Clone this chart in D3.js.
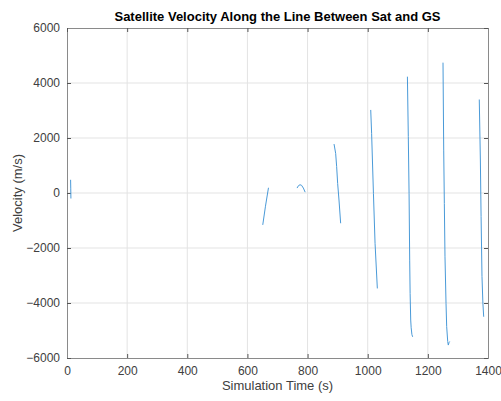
<!DOCTYPE html>
<html>
<head>
<meta charset="utf-8">
<script src="https://cdn.jsdelivr.net/npm/d3@7"></script>
<style>
  body { margin: 0; background: white; }
  text { font-family: "Liberation Sans", Arial, sans-serif; }
</style>
</head>
<body>
<div id="chart"></div>
<script>
// each pass: time (s) and velocity (m/s)
let pass1Time = [12, 12.5, 13];
let pass1Vel = [480, 150, -200];
let pass2Time = [651, 660, 670];
let pass2Vel = [-1160, -480, 190];
let pass3Time = [765, 770, 775, 780, 786, 792];
let pass3Vel = [180, 270, 300, 280, 180, 30];
let pass4Time = [888, 893.4, 896.7, 900, 904.5, 910];
let pass4Vel = [1780, 1440, 960, 350, -255, -1100];
let pass5Time = [1010, 1013, 1019, 1024.4, 1032];
let pass5Vel = [3020, 2170, -10, -1830, -3470];
let pass6Time = [1132, 1135, 1137.5, 1139.6, 1141, 1143, 1144.5, 1147, 1149.5];
let pass6Vel = [4230, 2050, -10, -2440, -3650, -4620, -4900, -5150, -5230];
let pass7Time = [1250.4, 1252.7, 1254.8, 1257, 1260.4, 1262.6, 1266, 1268, 1270.4, 1272.6];
let pass7Vel = [4740, 1560, -380, -2320, -4010, -4860, -5400, -5530, -5440, -5400];
let pass8Time = [1371, 1374.6, 1377, 1380, 1383, 1385.7];
let pass8Vel = [3400, 1200, -860, -3040, -4000, -4500];

let passes = [
    [pass1Time, pass1Vel], [pass2Time, pass2Vel], [pass3Time, pass3Vel], [pass4Time, pass4Vel],
    [pass5Time, pass5Vel], [pass6Time, pass6Vel], [pass7Time, pass7Vel], [pass8Time, pass8Vel]
];

let xTicks = [0, 200, 400, 600, 800, 1000, 1200, 1400];
let yTicks = [-6000, -4000, -2000, 0, 2000, 4000, 6000];

const wSvg = 501;
const hSvg = 401;
const xLeft = 67, xRight = 488, yTop = 28, yBottom = 358;

let xScale = d3.scaleLinear([0, 1400], [xLeft, xRight]);
let yScale = d3.scaleLinear([-6000, 6000], [yBottom, yTop]);

let svg = d3.select("#chart")
    .append("svg")
    .attr("width", wSvg)
    .attr("height", hSvg);

// grid
svg.append("g")
    .selectAll("line")
    .data(xTicks.slice(1, -1))
    .enter()
    .append("line")
    .attr("x1", d => xScale(d)).attr("x2", d => xScale(d))
    .attr("y1", yTop).attr("y2", yBottom)
    .attr("stroke", "#e3e3e3");

svg.append("g")
    .selectAll("line")
    .data(yTicks.slice(1, -1))
    .enter()
    .append("line")
    .attr("x1", xLeft).attr("x2", xRight)
    .attr("y1", d => yScale(d)).attr("y2", d => yScale(d))
    .attr("stroke", "#e3e3e3");

// axes
let xAxis = d3.axisBottom(xScale).tickValues(xTicks).tickFormat(d3.format("d")).tickSize(-4).tickPadding(8);
svg.append("g")
    .attr("transform", `translate(0, ${yBottom})`)
    .call(xAxis);

let yAxis = d3.axisLeft(yScale).tickValues(yTicks).tickFormat(d3.format("d")).tickSize(-4).tickPadding(7);
svg.append("g")
    .attr("transform", `translate(${xLeft}, 0)`)
    .call(yAxis);

svg.append("g")
    .attr("transform", `translate(0, ${yTop})`)
    .call(d3.axisTop(xScale).tickValues(xTicks).tickSize(-4).tickFormat(""));
svg.append("g")
    .attr("transform", `translate(${xRight}, 0)`)
    .call(d3.axisRight(yScale).tickValues(yTicks).tickSize(-4).tickFormat(""));

svg.selectAll(".domain").attr("stroke", "#8a8a8a");
svg.selectAll(".tick line").attr("stroke", "#555");
svg.selectAll(".tick text")
    .attr("fill", "#404040")
    .style("font-size", "12px")
    .style("font-family", "Liberation Sans, Arial, sans-serif");

// lines
let line = d3.line().x(d => xScale(d[0])).y(d => yScale(d[1]));
for (let p of passes) {
    let pts = p[0].map((t, i) => [t, p[1][i]]);
    svg.append("path")
        .attr("d", line(pts))
        .attr("fill", "none")
        .attr("stroke", "#4a9ad8")
        .attr("stroke-width", 1);
}

// labels
svg.append("text")
    .attr("x", (xLeft + xRight) / 2)
    .attr("y", 21)
    .attr("text-anchor", "middle")
    .attr("font-weight", "bold")
    .attr("font-size", "13px")
    .attr("fill", "#000")
    .text("Satellite Velocity Along the Line Between Sat and GS");

svg.append("text")
    .attr("x", (xLeft + xRight) / 2)
    .attr("y", 390)
    .attr("text-anchor", "middle")
    .attr("font-size", "13px")
    .attr("fill", "#404040")
    .text("Simulation Time (s)");

svg.append("text")
    .attr("transform", `translate(22, ${(yTop + yBottom) / 2}) rotate(-90)`)
    .attr("text-anchor", "middle")
    .attr("font-size", "13px")
    .attr("fill", "#404040")
    .text("Velocity (m/s)");
</script>
</body>
</html>
